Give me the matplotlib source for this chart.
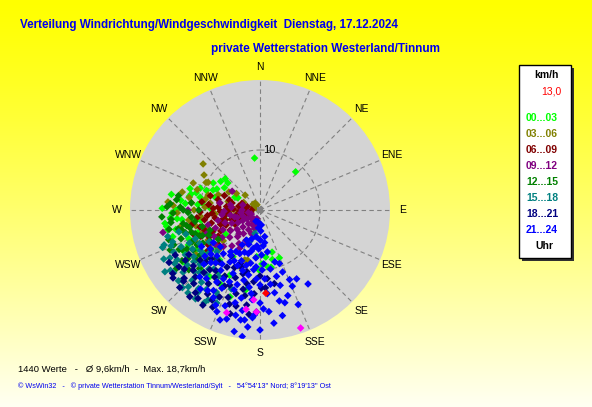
import numpy as np
import matplotlib
matplotlib.use("Agg")
import matplotlib.pyplot as plt
from matplotlib.patches import Rectangle

plt.rcParams['font.family'] = ['Liberation Sans', 'DejaVu Sans']

W, H = 592, 407
RMAX = 21.67          # outer ring of the rose, km/h

# (direction deg from N clockwise, speed km/h), per 3-hour block
h00_03 = [(354, 8.7), (43, 8.7), (271, 16.3), (268, 14.7), (287, 12.2), (283, 11.8), (282, 10.2),
          (296, 8.0), (312, 7.8), (306, 8.1), (310, 7.0), (297, 4.7), (293, 8.5), (258, 15.7),
          (264, 13.9), (263, 13.1), (257, 14.4), (253, 15.2), (277, 13.3), (275, 10.4), (277, 9.7),
          (272, 8.3), (286, 7.8), (299, 4.2), (266, 6.4), (245, 8.7), (229, 9.5), (219, 10.7),
          (217, 13.9), (244, 13.3), (230, 13.0), (199, 15.3), (184, 7.8), (181, 10.0), (173, 7.9),
          (172, 9.6), (169, 9.7), (158, 8.6), (164, 7.3), (195, 3.3), (250, 11.0), (260, 10.0),
          (240, 11.5), (235, 7.0), (255, 6.0), (248, 12.8), (262, 16.0), (290, 10.6), (280, 15.0),
          (236, 15.5), (225, 14.0), (210, 9.0), (205, 12.0), (265, 15.0), (260, 15.8), (255, 14.0),
          (270, 14.0), (275, 12.5), (285, 11.0), (281, 12.0), (290, 9.5), (302, 7.0), (300, 9.0),
          (262, 11.8), (252, 13.0), (242, 14.5), (238, 12.5), (232, 11.5), (226, 12.8), (214, 12.5),
          (208, 14.0), (190, 13.5), (178, 9.0), (166, 8.5)]
h03_06 = [(309, 12.2), (298, 9.8), (297, 10.1), (283, 13.3), (275, 15.4), (273, 14.5), (258, 13.6),
          (315, 3.5), (273, 9.2), (278, 8.4), (281, 9.3), (290, 7.4), (324, 1.4), (330, 1.0),
          (300, 0.8), (290, 1.2), (194, 8.6), (197, 8.7), (270, 11.0), (262, 12.0), (252, 9.5),
          (265, 7.5), (285, 5.5), (300, 6.0), (240, 10.0), (245, 12.5), (256, 11.0), (268, 5.0),
          (278, 3.0), (260, 4.0), (250, 6.5), (235, 13.0), (230, 8.0), (220, 11.5), (288, 11.0),
          (295, 3.0), (305, 4.8), (302, 11.0), (292, 12.0), (280, 12.0), (268, 13.8), (276, 11.5),
          (286, 9.0), (264, 10.0), (248, 10.5), (242, 11.8), (226, 9.5), (208, 12.5), (200, 10.0),
          (310, 1.5), (275, 1.2)]
h06_09 = [(262, 2.0), (275, 2.5), (285, 2.2), (252, 2.8), (268, 3.4), (280, 3.6), (290, 3.2),
          (246, 3.6), (258, 4.0), (272, 4.4), (284, 4.8), (240, 4.8), (252, 5.0), (264, 5.2),
          (276, 5.6), (288, 5.4), (236, 6.0), (246, 6.2), (256, 6.4), (268, 6.6), (280, 6.8),
          (242, 7.4), (250, 7.0), (260, 7.6), (272, 7.8), (284, 7.2), (238, 8.2), (246, 8.6),
          (255, 8.4), (264, 8.8), (276, 8.6), (242, 9.6), (250, 9.8), (260, 9.4), (268, 10.0),
          (236, 10.4), (246, 10.8), (254, 10.4), (263, 10.6), (240, 11.6), (250, 11.8), (230, 9.0),
          (232, 11.0), (286, 8.6), (292, 6.4), (278, 9.8), (258, 11.6), (270, 1.4), (255, 1.6),
          (245, 2.2), (262, 5.8), (270, 5.4), (248, 4.4), (274, 7.0), (266, 8.0), (244, 9.0),
          (254, 6.0), (238, 10.0)]
h09_12 = [(304, 5.6), (257, 16.6), (270, 12.0), (280, 6.8), (286, 3.0), (200, 1.5), (215, 1.8),
          (230, 2.0), (245, 1.6), (258, 2.0), (205, 2.8), (220, 3.0), (235, 2.6), (250, 3.0),
          (262, 3.2), (210, 3.8), (225, 4.0), (240, 4.2), (255, 4.4), (200, 4.2), (215, 4.8),
          (230, 5.0), (245, 5.2), (260, 5.0), (205, 5.6), (220, 5.8), (235, 6.0), (250, 6.2),
          (263, 6.4), (212, 6.6), (228, 6.8), (242, 7.0), (256, 7.2), (218, 7.6), (234, 7.8),
          (248, 8.0), (225, 8.6), (240, 8.8), (254, 9.0), (232, 9.4), (246, 9.8), (196, 3.2),
          (190, 2.4), (210, 2.2), (270, 3.0), (275, 4.8), (268, 6.0), (280, 5.0), (238, 3.4),
          (222, 5.2), (252, 4.0), (208, 7.2), (200, 6.0)]
h12_15 = [(264, 14.9), (272, 13.3), (256, 12.1), (232, 13.4), (260, 13.0), (268, 12.0), (250, 14.0),
          (245, 12.5), (240, 11.0), (276, 11.5), (254, 10.0), (248, 9.0), (270, 10.2),
          (258, 15.5), (244, 15.0), (236, 14.5), (252, 16.0), (266, 16.4), (280, 13.8), (238, 9.8),
          (228, 12.0), (242, 13.8), (256, 13.5), (274, 15.0), (250, 11.5), (260, 11.0), (230, 15.5),
          (246, 10.5), (235, 8.5), (222, 11.0), (226, 14.0), (246, 16.4),
          (235, 17.0), (253, 13.0), (257, 14.0), (262, 15.0), (268, 14.5), (272, 15.5), (277, 14.0),
          (248, 15.5), (243, 14.5), (239, 13.0), (233, 12.5), (241, 12.0), (247, 11.0), (252, 12.0),
          (258, 12.5), (264, 11.5), (270, 12.8), (237, 15.5), (244, 9.5), (231, 10.5)]
h15_18 = [(249, 17.4), (239, 16.1), (229, 18.0), (224, 16.3), (224, 14.5), (210, 17.3), (205, 17.1),
          (221, 18.3), (233, 15.2), (240, 13.0), (245, 14.5), (250, 15.5), (236, 12.0), (230, 11.0),
          (228, 13.5), (218, 12.5), (215, 15.0), (242, 17.0), (252, 13.0), (234, 17.8), (226, 10.0),
          (238, 10.0), (246, 11.8), (220, 14.0), (212, 13.0), (232, 14.0), (244, 16.0), (255, 14.0),
          (200, 14.0), (208, 15.5), (217, 17.2), (236, 18.0), (237, 18.9), (218, 16.6), (225, 18.3),
          (248, 16.0), (243, 18.0), (239, 14.5), (235, 13.5), (231, 16.5), (227, 15.0), (223, 17.5),
          (219, 15.5), (214, 16.0), (211, 18.0), (206, 16.0), (245, 13.0), (250, 17.0), (232, 12.0),
          (241, 11.5), (228, 17.5), (221, 13.0), (254, 16.0), (238, 16.8), (216, 18.3), (192, 4.0),
          (198, 5.5)]
h18_21 = [(232, 18.4), (226, 18.6), (219, 18.6), (211, 18.5), (179, 13.0), (176, 13.0), (169, 12.5),
          (215, 15.0), (220, 13.0), (228, 15.0), (235, 16.5), (205, 14.0), (200, 12.0), (210, 11.0),
          (225, 11.5), (230, 13.0), (238, 14.0), (198, 16.5), (190, 14.5), (185, 12.0), (208, 17.0),
          (215, 18.0), (222, 16.5), (200, 9.5), (212, 9.0), (195, 11.0), (188, 16.0), (182, 17.0),
          (196, 18.0), (232, 16.0), (240, 17.5), (218, 11.0), (205, 16.0), (227, 17.4), (192, 13.5),
          (222, 14.0), (228, 17.0), (234, 18.0), (214, 13.5), (208, 12.5), (202, 13.5), (196, 14.5),
          (190, 12.5), (184, 14.0), (186, 17.5), (194, 16.5), (200, 15.5), (206, 18.0), (212, 16.5),
          (218, 17.5), (224, 15.5), (230, 14.5), (236, 15.0), (242, 16.0), (204, 10.5), (198, 10.0),
          (192, 10.5), (180, 11.0), (174, 11.5), (216, 12.5), (210, 14.0), (226, 12.5)]
h21_24 = [(188, 21.3), (186, 19.6), (190, 18.6), (184, 18.0), (192, 20.7), (203, 18.4), (170, 7.1),
          (166, 11.4), (157, 12.6), (157, 13.8), (147, 14.7), (164, 9.0), (175, 6.0), (180, 5.0),
          (185, 8.0), (190, 6.5), (195, 7.5), (200, 9.0), (205, 8.0), (210, 10.0), (215, 8.5),
          (220, 9.5), (178, 10.0), (183, 11.5), (188, 13.0), (193, 12.0),
          (198, 14.0), (203, 11.5), (208, 13.0), (213, 12.0), (218, 14.5), (223, 12.0), (175, 14.0),
          (180, 15.5), (185, 15.0), (190, 17.0), (195, 16.0), (200, 17.0), (172, 12.5), (168, 15.5),
          (160, 11.0), (176, 9.0), (182, 6.5), (188, 4.5), (196, 5.0), (204, 5.5),
          (175, 17.0), (165, 16.0), (210, 15.5), (200, 19.5), (194, 9.5), (186, 10.0), (178, 3.5),
          (170, 4.5), (160, 9.5), (152, 13.0), (173, 19.0), (228, 11.0), (235, 9.5), (200, 2.0),
          (185, 3.0), (175, 2.5), (190, 2.0), (172, 5.5), (178, 7.5), (184, 9.5), (190, 11.0),
          (196, 10.5), (202, 10.0), (207, 9.5), (213, 9.0), (223, 10.5), (227, 9.0),
          (232, 10.5), (238, 11.5), (180, 12.5), (186, 14.0), (192, 15.0), (197, 13.0), (203, 13.0),
          (206, 14.5), (211, 14.0), (215, 11.0), (220, 11.5), (226, 13.0), (230, 12.0), (178, 16.5),
          (183, 17.5), (188, 18.5), (193, 18.0), (197, 19.0), (205, 17.5), (208, 16.5), (213, 16.0),
          (217, 16.5), (222, 15.0), (170, 14.0), (165, 13.0), (162, 15.0), (158, 17.0), (168, 18.0),
          (180, 20.0), (192, 7.0), (198, 6.0), (207, 6.5), (185, 6.0), (176, 11.5), (170, 10.0),
          (190, 9.0), (200, 7.5), (210, 8.0)]
extra_magenta = [(198, 18.0), (188, 16.7), (184, 15.0), (182, 17.0), (161, 20.8)]
extra_red = [(176, 13.9)]

block_labels = ['00...03', '03...06', '06...09', '09...12', '12...15', '15...18', '18...21', '21...24']
block_colors = ['#00FF00', '#808000', '#800000', '#800080', '#008000', '#008080', '#000080', '#0000FF']
blocks = [h00_03, h03_06, h06_09, h09_12, h12_15, h15_18, h18_21, h21_24]

compass = ['N', 'NNE', 'NE', 'ENE', 'E', 'ESE', 'SE', 'SSE',
           'S', 'SSW', 'SW', 'WSW', 'W', 'WNW', 'NW', 'NNW']

title = 'Verteilung Windrichtung/Windgeschwindigkeit  Dienstag, 17.12.2024'
subtitle = 'private Wetterstation Westerland/Tinnum'
stats = '1440 Werte   -   Ø 9,6km/h  -  Max. 18,7km/h'
footer = "© WsWin32   -   © private Wetterstation Tinnum/Westerland/Sylt   -   54°54'13'' Nord; 8°19'13'' Ost"
legend_value = '13,0'


def fx(px):
    return px / W


def fy(py):
    return 1 - py / H


fig = plt.figure(figsize=(W / 100, H / 100), dpi=100)

# yellow background fading to pale at the bottom
bg = fig.add_axes([0, 0, 1, 1], zorder=-10)
grad = np.linspace(0, 1, 256)[:, None]
img = np.ones((256, 2, 3))
img[:, :, 2] = grad ** 1.2 * 0.95
bg.imshow(img, aspect='auto', extent=[0, 1, 0, 1], origin='upper')
bg.axis('off')

ax = fig.add_axes([fx(130), fy(340), 260 / W, 260 / H], projection='polar')
ax.set_facecolor('#D4D4D4')
ax.set_theta_zero_location('N')
ax.set_theta_direction(-1)
ax.set_ylim(0, RMAX)
ax.grid(False)
ax.set_xticks([])
ax.set_yticks([])
ax.spines['polar'].set_visible(False)

for k in range(16):
    th = np.deg2rad(k * 22.5)
    ax.plot([th, th], [0, RMAX], color='#808080', lw=0.8, dashes=(4, 3), zorder=1)
    ax.text(th, 23.8, compass[k], ha='center', va='center', fontsize=7.5, clip_on=False)

ring = np.linspace(0, 2 * np.pi, 361)
ax.plot(ring, np.full_like(ring, 10.0), color='#808080', lw=0.8, dashes=(4, 3), zorder=1)
ax.text(np.deg2rad(9), 10.05, '10', ha='center', va='center', fontsize=8, zorder=2)

for data, col in zip(blocks, block_colors):
    d = np.deg2rad([p[0] for p in data])
    s = [p[1] for p in data]
    ax.scatter(d, s, s=15, marker='D', c=col, edgecolors='none', zorder=3)

for data, col in [(extra_magenta, '#FF00FF'), (extra_red, '#FF0000')]:
    ax.scatter(np.deg2rad([p[0] for p in data]), [p[1] for p in data],
               s=15, marker='D', c=col, edgecolors='none', zorder=4)

ax.scatter([0], [0], s=14, marker='s', c='#808080', edgecolors='none', zorder=5)

# titles
fig.text(fx(20), fy(25), title, color='#0000EE', fontsize=8.4, fontweight='bold', va='center')
fig.text(fx(211), fy(49), subtitle, color='#0000EE', fontsize=8.5, fontweight='bold', va='center')

# legend box with shadow
fig.patches.append(Rectangle((fx(522), fy(261)), 52 / W, 193 / H, transform=fig.transFigure,
                             facecolor='#303030', edgecolor='none', zorder=1))
fig.patches.append(Rectangle((fx(519), fy(258)), 52 / W, 193 / H, transform=fig.transFigure,
                             facecolor='white', edgecolor='black', lw=1, zorder=2))
fig.text(fx(546), fy(75), 'km/h', fontsize=7.5, fontweight='bold', ha='center', va='center', zorder=3)
fig.text(fx(561), fy(91), legend_value, fontsize=7.5, color='red', ha='right', va='center', zorder=3)
for i, (lab, col) in enumerate(zip(block_labels, block_colors)):
    fig.text(fx(526), fy(118 + 16 * i), lab, fontsize=7.5, fontweight='bold', color=col,
             va='center', zorder=3)
fig.text(fx(544), fy(246), 'Uhr', fontsize=7.5, fontweight='bold', ha='center', va='center', zorder=3)

# bottom info
fig.text(fx(18), fy(369), stats, fontsize=6.8, va='center')
fig.text(fx(18), fy(386), footer, fontsize=5.2, color='#0000EE', va='center')

fig.savefig('out.png', dpi=100)
